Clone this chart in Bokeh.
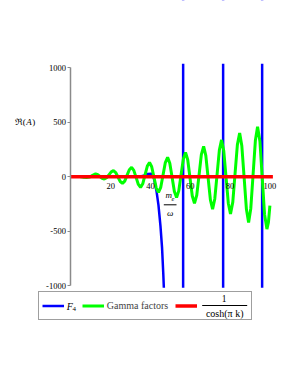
from bokeh.plotting import figure
from bokeh.models import Range1d, FixedTicker, Label, Legend, LegendItem, Arrow, BoxAnnotation
from bokeh.embed import file_html
from bokeh.resources import INLINE

# ---- data ----
x_ticks = [20, 40, 60, 80, 100]
x_tick_labels = ["20", "40", "60", "80", "100"]
y_ticks = [-1000, -500, 0, 500, 1000]
y_tick_labels = ["-1000", "-500", "0", "500", "1000"]

# F_4 (blue)
f4_x = [0, 30, 35, 37, 38.5, 40.5, 41.3, 42.0, 43.0, 44.0, 45.0, 45.8, 46.4, 47.0, 48.0, 52.0,
        56.2, 56.6, 66.0, 76.3, 76.7, 86.0, 95.9, 96.3, 101.5]
f4_y = [0, 0, 3, 12, 25, 26, 15, -40, -130, -260, -450, -650, -880, -1150, -1800, -8000,
        -60000, 60000, 60000, 60000, -60000, -60000, -60000, 60000, 60000]

# Gamma factors (green)
gamma_x = [4.8, 6.0, 7.9, 9.5, 10.9, 12.4, 13.5, 14.6, 15.7, 16.8, 17.95, 19.1, 20.25, 21.4,
           22.5, 23.65, 24.8, 25.9, 27.05, 28.2, 29.35, 30.5, 31.6, 32.75, 33.9, 35.0,
           36.1, 37.25, 38.4, 39.5, 40.6, 41.75, 42.9, 44.0, 45.15, 46.3, 47.45, 48.6,
           49.7, 50.85, 52.0, 53.1, 54.2, 55.35, 56.5, 57.6, 58.7, 59.85, 61.0, 62.1,
           63.25, 64.4, 65.55, 66.7, 67.8, 68.95, 70.1, 71.2, 72.3, 73.45, 74.6, 75.7,
           76.8, 77.95, 79.1, 80.2, 81.35, 82.5, 83.65, 84.8, 85.9, 87.05, 88.2, 89.3,
           90.4, 91.55, 92.7, 93.8, 95.0, 96.15, 97.3, 98.5, 99.25, 100.0]
gamma_y = [0, -4, -8, -3, 12, 25, 18, 2, -14, -21, -10, 17, 44, 55,
           38, -3, -44, -61, -40, 12, 64, 85, 58, -6, -71, -98,
           -65, 16, 98, 131, 91, -6, -104, -144, -97, 16, 130, 177,
           123, -6, -136, -190, -130, 16, 163, 223, 155, -11, -177, -245,
           -169, 16, 202, 278, 194, -10, -213, -297, -204, 20, 244, 337,
           238, -2, -243, -342, -233, 30, 292, 401, 281, -9, -299, -419,
           -291, 20, 331, 459, 322, -10, -343, -480, -420, -266]

# 1/cosh(pi k) (red)
sech_x = [0, 101.5]
sech_y = [0, 0]

# plotted window (what the reference's view shows)
view_y_top = 1035
view_y_bottom = -1018

SERIF = "Liberation Serif"
W, H = 290, 380

p = figure(width=W, height=H,
           x_range=Range1d(-35.38, 110.35), y_range=Range1d(-1867.8, 1614.9),
           output_backend="svg", toolbar_location=None, min_border=0,
           min_border_left=0, min_border_right=0, min_border_top=0, min_border_bottom=0)
p.outline_line_color = None
p.xgrid.visible = False
p.ygrid.visible = False
p.background_fill_color = "white"
p.border_fill_color = "white"

r_blue = p.line(f4_x, f4_y, line_color="#0000ff", line_width=2.5)
r_green = p.line(gamma_x, gamma_y, line_color="#00ff00", line_width=3)
r_red = p.line(sech_x, sech_y, line_color="#ff0000", line_width=3.5)

# white masks limiting the drawn curves to the view window
p.add_layout(BoxAnnotation(left=-1e6, right=1e6, bottom=view_y_top, top=1e6,
                           fill_color="white", fill_alpha=1, line_color=None, level="glyph"))
p.add_layout(BoxAnnotation(left=-1e6, right=1e6, bottom=-1e6, top=view_y_bottom,
                           fill_color="white", fill_alpha=1, line_color=None, level="glyph"))

for ax in (p.xaxis, p.yaxis):
    ax.fixed_location = 0
    ax.axis_line_color = "#8a8a8a"
    ax.axis_line_width = 1.5
    ax.major_tick_line_color = "#8a8a8a"
    ax.minor_tick_line_color = None
    ax.major_label_text_font = SERIF
    ax.major_label_text_font_size = "8.5px"
    ax.major_label_text_color = "black"

p.xaxis.ticker = FixedTicker(ticks=x_ticks)
p.xaxis.major_label_overrides = dict(zip(x_ticks, x_tick_labels))
p.xaxis.axis_line_color = None
p.xaxis.major_tick_out = 0
p.xaxis.major_tick_in = 0
p.xaxis.major_label_standoff = 6
p.xaxis.bounds = (0, 101.5)

p.yaxis.ticker = FixedTicker(ticks=y_ticks)
p.yaxis.major_label_overrides = dict(zip(y_ticks, y_tick_labels))
p.yaxis.major_tick_out = 3
p.yaxis.major_tick_in = 0
p.yaxis.major_label_standoff = 2
p.yaxis.bounds = (-1000, 1000)

NB = "\u00a0"
legend = Legend(items=[LegendItem(label=NB * 3, renderers=[r_blue]),
                       LegendItem(label="Gamma factors", renderers=[r_green]),
                       LegendItem(label=NB * 19, renderers=[r_red])],
                location=(38.3, 60.5), orientation="horizontal",
                padding=3, spacing=7, label_standoff=3, glyph_width=22, glyph_height=21,
                label_height=21, label_width=0, margin=0,
                border_line_color="#404040", border_line_width=1.2,
                background_fill_color="white", background_fill_alpha=0,
                label_text_font=SERIF, label_text_font_size="10px")
p.add_layout(legend)


def lab(text, sx, sy, size, style="normal", align="center", baseline="middle"):
    p.add_layout(Label(text=text, x=sx, y=sy, x_units="screen", y_units="screen",
                       text_font=SERIF, text_font_size=size, text_font_style=style,
                       text_align=align, text_baseline=baseline, text_color="black",
                       level="overlay"))


def bar(sx0, sx1, sy):
    p.add_layout(Arrow(end=None, x_start=sx0, y_start=sy, x_end=sx1, y_end=sy,
                       start_units="screen", end_units="screen",
                       line_color="black", line_width=1, level="overlay"))


# y-axis label  ℜ(A)
lab("ℜ(", 25.3, 258.3, "9px", align="right")
lab("A", 28.4, 258.3, "9px", "italic")
lab(")", 31.7, 258.3, "9px", align="left")
# x-axis label  m_e / ω
lab("m", 168.3, 185.7, "9px", "italic", baseline="alphabetic")
lab("e", 172.5, 182, "6.5px", "italic", baseline="alphabetic")
bar(163.3, 176, 175.7)
lab("ω", 169.7, 168, "9px", "italic", baseline="alphabetic")
# legend texts
lab("F", 69.2, 74, "10px", "italic")
lab("4", 73.7, 71.5, "7px")
lab("1", 223.5, 81.7, "9.5px")
bar(201.7, 246.7, 75)
lab("cosh(π k)", 224.2, 66.7, "10px")

open("out.html", "w").write(file_html(p, INLINE))
